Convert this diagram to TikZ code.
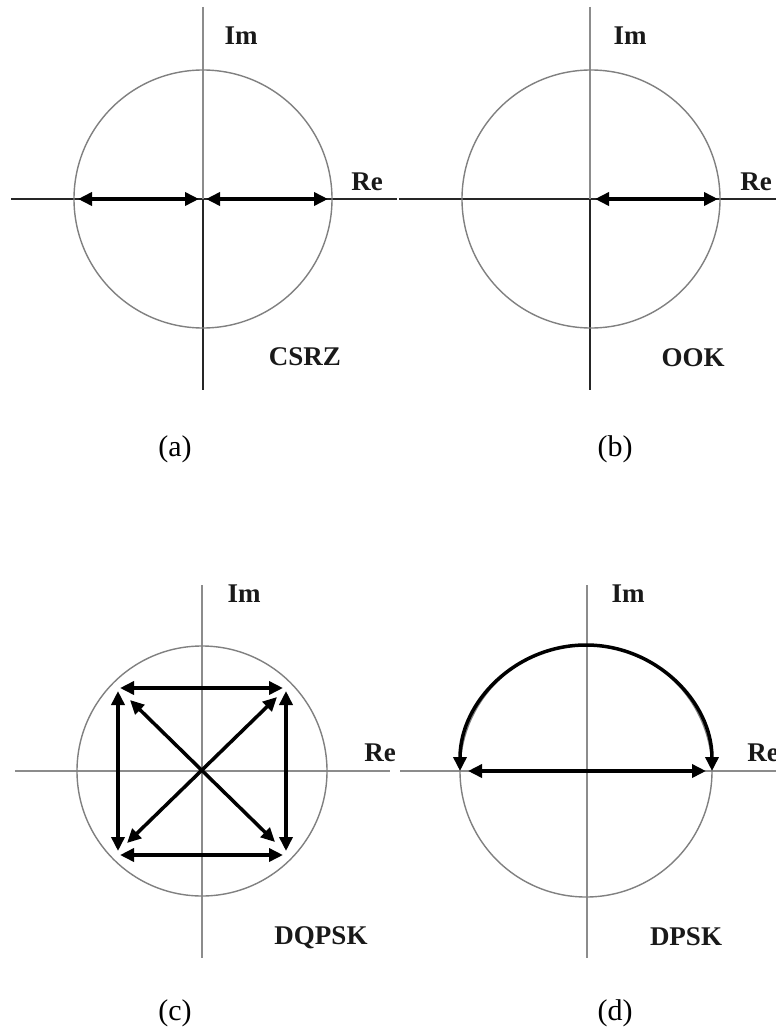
\documentclass[tikz,border=0pt]{standalone}
\usepackage{fontspec}
\setmainfont{Liberation Serif}
\usetikzlibrary{arrows.meta}
\tikzset{
  axisgray/.style={draw=black!45,line width=1.3pt},
  axisdark/.style={draw=black!85,line width=1.3pt},
  unitcirc/.style={draw=black!50,line width=1.4pt},
  arr/.style={draw=black,line width=3.5pt,{Triangle[length=14pt,width=13pt]}-{Triangle[length=14pt,width=13pt]}},
  lab/.style={font=\fontsize{27}{30}\selectfont\bfseries,text=black!90,inner sep=0pt},
  sublab/.style={font=\fontsize{30}{34}\selectfont,text=black,inner sep=0pt}
}
\begin{document}
\begin{tikzpicture}[x=1pt,y=-1pt]
\useasboundingbox (0,0) rectangle (776,1033);
\fill[white] (0,0) rectangle (776,1033);

% ---------- (a) CSRZ ----------
\coordinate (aO) at (203,199);
\coordinate (aT) at (203,7);
\coordinate (aB) at (203,390);
\coordinate (aL) at (11,199);
\coordinate (aR) at (397,199);
\draw[axisdark] (aL) -- (aR);
\draw[axisgray] (aT) -- (aO);
\draw[axisdark] (aO) -- (aB);
\draw[unitcirc] (aO) circle[radius=129pt];
\coordinate (a1) at (78,199);
\coordinate (a2) at (199,199);
\coordinate (a3) at (206,199);
\coordinate (a4) at (328,199);
\draw[arr] (a1) -- (a2);
\draw[arr] (a3) -- (a4);
\node[lab] (aIm) at (241,36) {Im};
\node[lab] (aRe) at (367,182) {Re};
\node[lab] (aName) at (305,357) {CSRZ};
\node[sublab] (aCap) at (175,449) {(a)};

% ---------- (b) OOK ----------
\coordinate (bO) at (590,199);
\coordinate (bT) at (590,7);
\coordinate (bB) at (590,390);
\coordinate (bL) at (399,199);
\coordinate (bR) at (776,199);
\draw[axisdark] (bL) -- (bR);
\draw[axisgray] (bT) -- (bO);
\draw[axisdark] (bO) -- (bB);
\coordinate (bC) at (591,199);
\draw[unitcirc] (bC) circle[radius=129pt];
\coordinate (b1) at (595,199);
\coordinate (b2) at (718,199);
\draw[arr] (b1) -- (b2);
\node[lab] (bIm) at (630,36) {Im};
\node[lab] (bRe) at (756,182) {Re};
\node[lab] (bName) at (693,358) {OOK};
\node[sublab] (bCap) at (615,449) {(b)};

% ---------- (c) DQPSK ----------
\coordinate (cO) at (202,771);
\coordinate (cT) at (202,585);
\coordinate (cB) at (202,958);
\coordinate (cL) at (15,771);
\coordinate (cR) at (390,771);
\draw[axisgray] (cL) -- (cR);
\draw[axisgray] (cT) -- (cB);
\draw[unitcirc] (cO) circle[radius=125pt];
% square sides
\coordinate (cTl) at (120,688);
\coordinate (cTr) at (283,688);
\coordinate (cBl) at (120,855);
\coordinate (cBr) at (283,855);
\coordinate (cLt) at (118,691);
\coordinate (cLb) at (118,851);
\coordinate (cRt) at (286,691);
\coordinate (cRb) at (286,851);
\draw[arr] (cTl) -- (cTr);
\draw[arr] (cBl) -- (cBr);
\draw[arr] (cLt) -- (cLb);
\draw[arr] (cRt) -- (cRb);
% diagonals
\coordinate (cD1) at (130,700);
\coordinate (cD2) at (275,842);
\coordinate (cD3) at (277,697);
\coordinate (cD4) at (127,843);
\draw[arr] (cD1) -- (cD2);
\draw[arr] (cD3) -- (cD4);
\node[lab] (cIm) at (244,594) {Im};
\node[lab] (cRe) at (380,753) {Re};
\node[lab] (cName) at (321,938) {DQPSK};
\node[sublab] (cCap) at (175,1013) {(c)};

% ---------- (d) DPSK ----------
\coordinate (dO) at (587,771);
\coordinate (dT) at (587,585);
\coordinate (dB) at (587,958);
\coordinate (dL) at (400,771);
\coordinate (dR) at (776,771);
\draw[axisgray] (dL) -- (dR);
\draw[axisgray] (dT) -- (dB);
\coordinate (dC) at (586,771);
\draw[unitcirc] (dC) circle[radius=126pt];
\coordinate (dArcR) at (712,771);
\draw[arr] (dArcR) arc[start angle=0,end angle=180,radius=126pt];
\coordinate (d1) at (468,771);
\coordinate (d2) at (706,771);
\draw[arr] (d1) -- (d2);
\node[lab] (dIm) at (628,594) {Im};
\node[lab] (dRe) at (763,753) {Re};
\node[lab] (dName) at (686,937) {DPSK};
\node[sublab] (dCap) at (615,1013) {(d)};
\end{tikzpicture}
\end{document}
